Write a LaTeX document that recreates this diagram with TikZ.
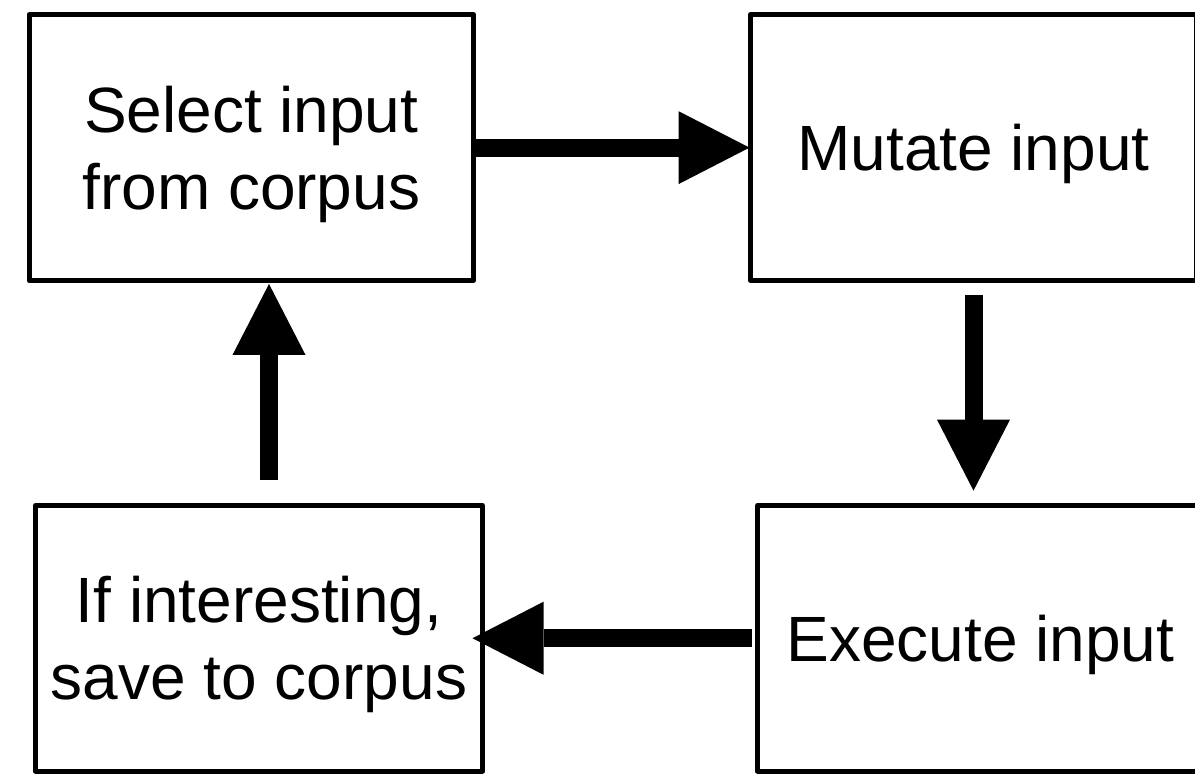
\documentclass[tikz,border=0pt]{standalone}
\usepackage{fontspec}
\setmainfont{Liberation Sans}
\usetikzlibrary{arrows.meta,calc}

\tikzset{
  stage/.style={draw, line width=5pt, line join=round, outer sep=0pt,
    minimum width=446pt, minimum height=265.6pt, inner sep=0pt},
  caption/.style={align=center, inner sep=0pt, yshift=-6.5pt,
    font=\fontsize{64}{77}\selectfont},
  flow/.style={line width=18pt,
    -{Triangle[length=71pt, width=73pt, line width=0pt]}}
}

\begin{document}
\begin{tikzpicture}[x=1pt, y=1pt]
  \useasboundingbox (0,0) rectangle (1195,774);

  % the four stages of the fuzzing loop
  \node[stage, minimum width=444.5pt,
    label={[caption]center:{Select input\\from corpus}}] (select) at (251.25,626.35) {};
  \node[stage, label={[caption]center:{Mutate input}}] (mutate) at (973.5,626.35) {};
  \node[stage, label={[caption]center:{Execute input}}] (execute) at (980.5,135.75) {};
  \node[stage, minimum width=447pt,
    label={[caption]center:{If interesting,\\save to corpus}}] (save) at (259,135.75) {};

  % connectors between the stages
  \draw[flow, shorten >=1pt] (select.east) -- (mutate.west);
  \draw[flow, shorten <=14.5pt, shorten >=14.8pt]
    (mutate.south) -- (mutate.south |- execute.north);
  \draw[flow, shorten <=5.8pt, shorten >=-10pt]
    (execute.west) -- (execute.west -| save.east);
  \coordinate (up) at ([xshift=10pt]save.north);
  \draw[flow, shorten <=25.5pt, shorten >=3.5pt]
    (up) -- (up |- select.south);
\end{tikzpicture}
\end{document}
